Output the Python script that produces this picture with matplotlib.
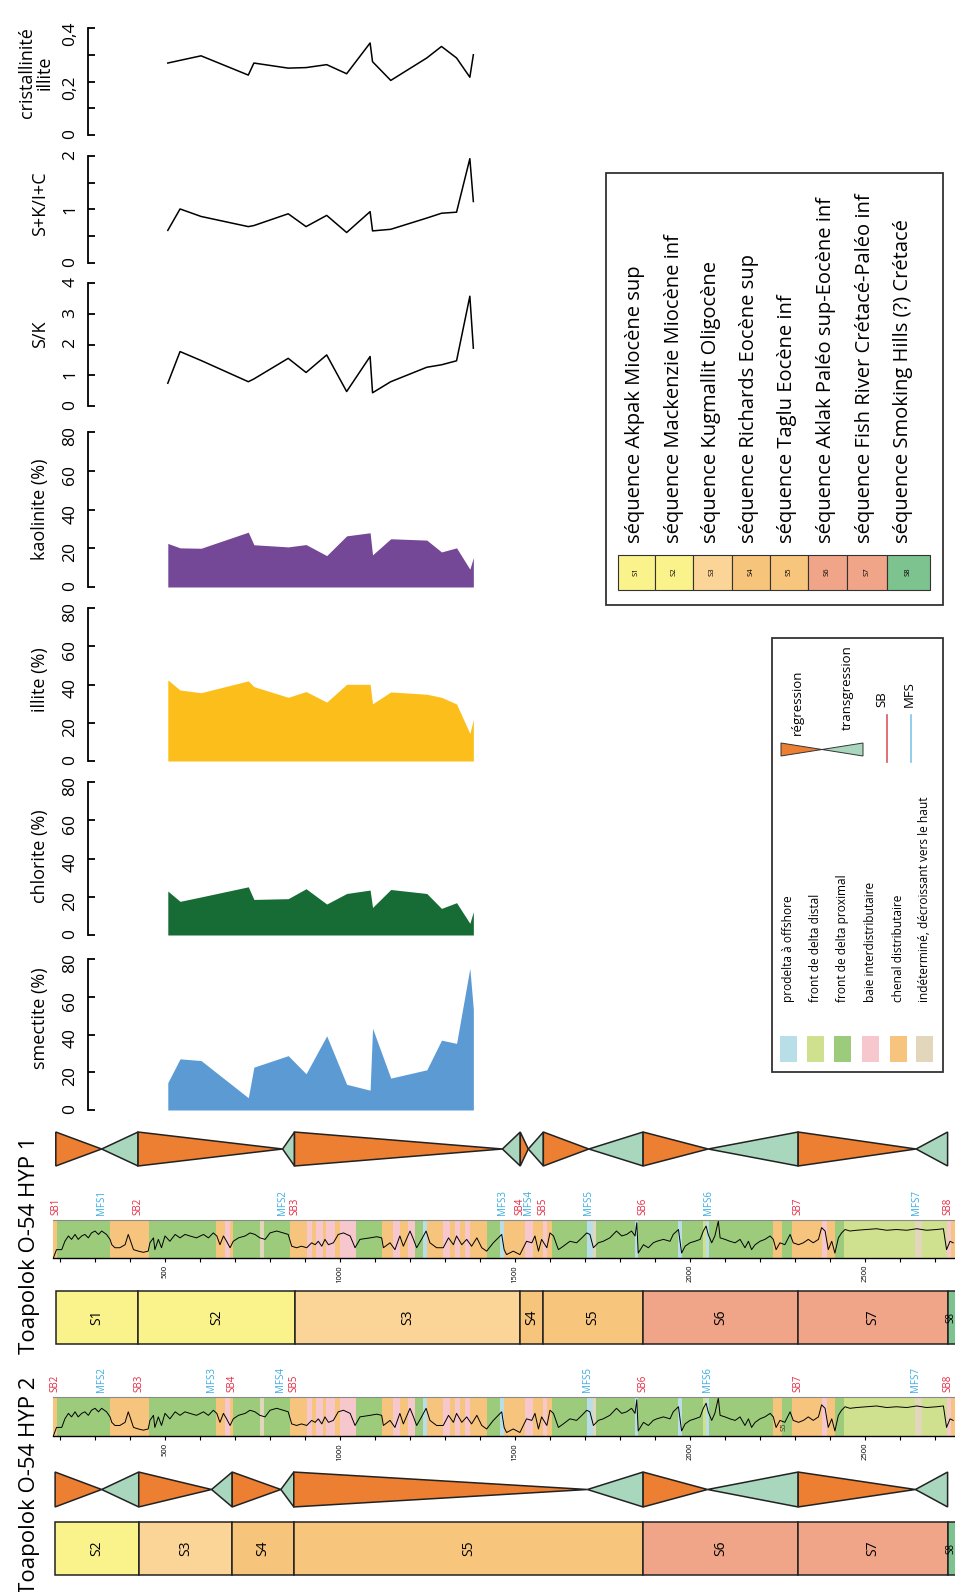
import numpy as np
import matplotlib
matplotlib.use("Agg")
import matplotlib.pyplot as plt
import matplotlib.transforms as mtransforms
from matplotlib.patches import Polygon, Rectangle

plt.rcParams['font.family'] = ['Open Sans', 'DejaVu Sans']

W, H = 955, 1592
# depth (m) seen at the left and right edges of the figure
D0, D1 = 10 / 0.35, (W + 10) / 0.35

# clay mineralogy, samples by depth (m)
sample_depth = [508, 543, 603, 738, 754, 852, 903, 962, 1019, 1086, 1093, 1145, 1248, 1290, 1333, 1371, 1381]
smectite = [14.5, 27.1, 26.2, 6.5, 22.7, 28.8, 19.2, 39.3, 13.6, 10.5, 43.3, 16.9, 21.3, 37.0, 35.3, 75.1, 53.3]
chlorite = [23.0, 17.6, 19.9, 25.2, 18.6, 19.0, 24.2, 16.2, 21.7, 23.5, 14.4, 23.8, 21.7, 13.9, 16.9, 6.1, 12.2]
illite = [42.4, 37.1, 35.7, 41.9, 38.9, 33.3, 36.3, 30.8, 40.1, 40.1, 29.9, 36.1, 34.9, 33.3, 29.8, 14.4, 21.7]
kaolinite = [22.5, 20.2, 20.0, 28.3, 21.8, 20.7, 21.9, 16.2, 26.4, 28.0, 16.6, 24.9, 24.2, 18.1, 20.2, 9.2, 15.2]
s_over_k = [0.74, 1.77, 1.48, 0.79, 0.88, 1.55, 1.09, 1.66, 0.47, 1.61, 0.43, 0.79, 1.26, 1.34, 1.47, 3.57, 1.88]
sk_over_ic = [0.61, 1.01, 0.87, 0.68, 0.70, 0.92, 0.68, 0.89, 0.57, 0.96, 0.60, 0.63, 0.84, 0.93, 0.95, 1.95, 1.15]
illite_cryst = [0.269, 0.279, 0.296, 0.224, 0.269, 0.250, 0.252, 0.263, 0.229, 0.344, 0.274, 0.204, 0.288, 0.331, 0.288, 0.216, 0.300]

# facies intervals along the well (m)
facies_from = [181, 191, 343, 454, 645, 671, 686, 693, 771, 783, 857, 905, 920, 930, 950, 960, 985, 1000,
               1046, 1121, 1152, 1171, 1195, 1214, 1238, 1249, 1295, 1314, 1329, 1343, 1357, 1371, 1419,
               1457, 1469, 1529, 1552, 1581, 1590, 1605, 1707, 1722, 1731, 1844, 1850, 1967, 1978, 2038,
               2046, 2055, 2238, 2264, 2291, 2376, 2391, 2414, 2440, 2643, 2662, 2733, 2745]
facies_to = [191, 343, 454, 645, 671, 686, 693, 771, 783, 857, 905, 920, 930, 950, 960, 985, 1000, 1046,
             1121, 1152, 1171, 1195, 1214, 1238, 1249, 1295, 1314, 1329, 1343, 1357, 1371, 1419, 1457,
             1469, 1529, 1552, 1581, 1590, 1605, 1707, 1722, 1731, 1844, 1850, 1967, 1978, 2038, 2046,
             2055, 2238, 2264, 2291, 2376, 2391, 2414, 2440, 2643, 2662, 2733, 2745, 2800]
facies_code = ['C', 'X', 'C', 'X', 'C', 'B', 'C', 'X', 'I', 'X', 'C', 'B', 'C', 'B', 'C', 'B', 'C', 'B',
               'X', 'C', 'B', 'C', 'B', 'X', 'P', 'C', 'B', 'C', 'B', 'C', 'B', 'C', 'X',
               'P', 'C', 'B', 'C', 'B', 'C', 'X', 'P', 'I', 'X', 'P', 'X', 'P', 'X', 'D',
               'P', 'X', 'C', 'X', 'C', 'B', 'C', 'X', 'D', 'I', 'D', 'B', 'C']

# gamma-ray style log curve (0 = bottom of track, 100 = top)
gr_depth = [181, 190, 205, 214, 224, 233, 243, 252, 262, 271, 281, 290, 300, 310, 319, 333, 343, 348, 357, 371,
            386, 395, 400, 410, 424, 438, 452, 457, 467, 471, 481, 490, 500, 514, 529, 543, 557, 571, 590, 610,
            624, 638, 648, 657, 667, 676, 686, 695, 710, 729, 743, 757, 771, 786, 800, 819, 838, 852, 862, 876,
            890, 905, 919, 929, 938, 948, 957, 967, 981, 995, 1010, 1029, 1043, 1057, 1086, 1105, 1119, 1124, 1143, 1157,
            1171, 1181, 1200, 1210, 1219, 1233, 1246, 1257, 1276, 1295, 1310, 1324, 1333, 1348, 1362, 1376, 1391, 1405, 1419, 1438,
            1452, 1462, 1469, 1476, 1495, 1514, 1533, 1548, 1557, 1567, 1576, 1591, 1600, 1610, 1624, 1638, 1657, 1676, 1691, 1705,
            1714, 1724, 1738, 1752, 1771, 1790, 1805, 1819, 1833, 1843, 1848, 1852, 1867, 1881, 1895, 1905, 1924, 1943, 1952, 1967,
            1976, 1986, 2000, 2014, 2029, 2038, 2046, 2052, 2062, 2071, 2081, 2086, 2100, 2114, 2129, 2143, 2157, 2167, 2176, 2186,
            2200, 2214, 2229, 2238, 2246, 2257, 2271, 2286, 2295, 2310, 2324, 2338, 2352, 2367, 2376, 2386, 2395, 2405, 2414, 2424,
            2433, 2443, 2457, 2476, 2505, 2533, 2562, 2590, 2619, 2648, 2676, 2705, 2724, 2733, 2743, 2752]
gr_value = [0, 22, 22, 44, 58, 49, 62, 49, 58, 62, 53, 66, 71, 62, 71, 62, 49, 35, 27, 27,
            35, 62, 49, 22, 18, 15, 18, 40, 53, 22, 49, 27, 58, 44, 62, 53, 62, 58, 53, 62,
            53, 66, 58, 35, 58, 44, 27, 44, 53, 58, 66, 62, 53, 49, 66, 71, 66, 62, 31, 27,
            31, 27, 40, 35, 44, 31, 49, 35, 40, 62, 66, 58, 27, 49, 53, 56, 53, 27, 40, 22,
            58, 31, 71, 49, 27, 49, 71, 40, 27, 27, 53, 35, 58, 35, 49, 31, 53, 27, 18, 40,
            53, 62, 22, 9, 18, 9, 44, 40, 58, 18, 49, 27, 66, 58, 22, 31, 44, 40, 53, 66,
            62, 27, 40, 44, 53, 71, 58, 62, 71, 58, 93, 13, 35, 27, 40, 44, 49, 44, 62, 75,
            13, 31, 40, 44, 49, 71, 84, 62, 40, 58, 97, 53, 49, 44, 40, 49, 27, 44, 22, 35,
            44, 49, 58, 49, 22, 40, 35, 62, 40, 35, 40, 49, 40, 49, 80, 71, 22, 44, 13, 53,
            66, 75, 71, 73, 75, 77, 73, 75, 73, 77, 73, 75, 77, 22, 44, 40]

# sequence stratigraphic surfaces, two hypotheses
hyp1_surfaces = ['SB1', 'MFS1', 'SB2', 'MFS2', 'SB3', 'MFS3', 'SB4', 'MFS4', 'SB5', 'MFS5', 'SB6', 'MFS6', 'SB7', 'MFS7', 'SB8']
hyp1_depths = [188, 319, 423, 836, 870, 1464, 1515, 1538, 1581, 1711, 1866, 2052, 2309, 2646, 2736]
hyp2_surfaces = ['SB2', 'MFS2', 'SB3', 'MFS3', 'SB4', 'MFS4', 'SB5', 'MFS5', 'SB6', 'MFS6', 'SB7', 'MFS7', 'SB8']
hyp2_depths = [186, 319, 425, 633, 692, 831, 868, 1707, 1866, 2050, 2309, 2644, 2736]

seq_names = ['S1', 'S2', 'S3', 'S4', 'S5', 'S6', 'S7', 'S8']
seq_labels = ['séquence Akpak Miocène sup', 'séquence Mackenzie Miocène inf', 'séquence Kugmallit Oligocène',
              'séquence Richards Eocène sup', 'séquence Taglu Eocène inf', 'séquence Aklak Paléo sup-Eocène inf',
              'séquence Fish River Crétacé-Paléo inf', 'séquence Smoking Hills (?) Crétacé']
facies_names = ['P', 'D', 'X', 'B', 'C', 'I']
facies_labels = ['prodelta à offshore', 'front de delta distal', 'front de delta proximal',
                 'baie interdistributaire', 'chenal distributaire', 'indéterminé, décroissant vers le haut']

seq_colors = {'S1': '#FAF28A', 'S2': '#FAF28A', 'S3': '#FAD597', 'S4': '#F6C47A', 'S5': '#F7C67C',
              'S6': '#F0A488', 'S7': '#F0A488', 'S8': '#7DC38F'}
facies_colors = {'P': '#B8DEE8', 'D': '#CFE08E', 'X': '#9CCB7B', 'B': '#F6C8CE', 'C': '#F7C47E', 'I': '#E2D7BA'}
ORANGE, GREEN = '#EC7F31', '#A9D7BD'
SB_RED, MFS_BLUE = '#E4263F', '#3AADE2'

fig = plt.figure(figsize=(W / 100, H / 100), dpi=100)


def band(y_top, y_bot):
    ax = fig.add_axes([0, 1 - y_bot / H, 1, (y_bot - y_top) / H])
    ax.set_xlim(D0, D1)
    ax.patch.set_alpha(0)
    return ax


# ---- mineralogy panels
pct_ticks = [0, 20, 40, 60, 80]
pct_labels = ['0', '20', '40', '60', '80']
panels = [
    (28, 135, 0.4, [0, .1, .2, .3, .4], ['0', '', '0,2', '', '0,4'], 'cristallinité\nillite', 73, 36, illite_cryst, None),
    (156, 263, 2, [0, .5, 1, 1.5, 2], ['0', '', '1', '', '2'], 'S+K/I+C', 204, 40, sk_over_ic, None),
    (283, 406, 4, [0, 1, 2, 3, 4], ['0', '1', '2', '3', '4'], 'S/K', 334, 40, s_over_k, None),
    (432, 587, 80, pct_ticks, pct_labels, 'kaolinite (%)', 509, 40, kaolinite, '#744896'),
    (608, 761, 80, pct_ticks, pct_labels, 'illite (%)', 680, 40, illite, '#FBBE1A'),
    (782, 935, 80, pct_ticks, pct_labels, 'chlorite (%)', 856, 40, chlorite, '#176B34'),
    (959, 1110, 80, pct_ticks, pct_labels, 'smectite (%)', 1018, 40, smectite, '#5C9AD4'),
]
for y_top, y_bot, top, ticks, labels, name, name_y, name_x, vals, color in panels:
    ax = band(y_top, y_bot)
    ax.set_ylim(0, top)
    for s in ['top', 'right', 'bottom']:
        ax.spines[s].set_visible(False)
    ax.spines['left'].set_position(('data', 280))
    ax.spines['left'].set_linewidth(1.3)
    ax.set_xticks([])
    ax.set_yticks(ticks)
    ax.set_yticklabels(labels)
    ax.tick_params(axis='y', direction='in', length=5, width=1.3, pad=7, labelsize=12.5, labelrotation=90)
    if color:
        ax.fill_between(sample_depth, 0, vals, color=color, lw=0)
    else:
        ax.plot(sample_depth, vals, color='black', lw=1.1)
    ax.text(name_x / W, (y_bot - name_y) / (y_bot - y_top), name, transform=ax.transAxes, rotation=90,
            ha='center', va='center', fontsize=13, linespacing=1.0, multialignment='center')


# ---- well tracks
def log_track(y_top, y_bot, names, depths, label_gap=5):
    ax = band(y_top, y_bot)
    ax.set_ylim(0, 100)
    ax.bar(facies_from, 100, width=np.subtract(facies_to, facies_from), align='edge',
           color=[facies_colors[c] for c in facies_code], lw=0)
    ax.plot(gr_depth, gr_value, color='black', lw=0.7)
    for s in ['left', 'right']:
        ax.spines[s].set_visible(False)
    ax.spines['top'].set_color('#8a8a8a')
    ax.spines['top'].set_bounds(181, D1)
    ax.spines['bottom'].set_bounds(181, D1)
    ax.spines['bottom'].set_linewidth(1.0)
    ticks = list(range(200, 2800, 100))
    ax.set_xticks(ticks)
    ax.set_xticklabels([str(t) if t % 500 == 0 else '' for t in ticks])
    ax.tick_params(axis='x', direction='out', length=3, width=0.8, labelsize=5.5, labelrotation=90, pad=2)
    ax.set_yticks([])
    trans = mtransforms.blended_transform_factory(ax.transData, ax.transAxes)
    for n, d in zip(names, depths):
        ax.text(d, 1 + label_gap / (y_bot - y_top), n, transform=trans, rotation=90, ha='center', va='bottom',
                fontsize=7, color=SB_RED if n.startswith('SB') else MFS_BLUE)
    return ax


def tri_track(y_top, y_bot, names, depths):
    ax = band(y_top, y_bot)
    ax.set_ylim(-1.06, 1.06)
    ax.axis('off')
    for i in range(len(depths) - 1):
        a, b = depths[i], depths[i + 1]
        if names[i].startswith('SB'):
            pts, col = [(a, -1), (a, 1), (b, 0)], ORANGE
        else:
            pts, col = [(a, 0), (b, 1), (b, -1)], GREEN
        ax.add_patch(Polygon(pts, closed=True, fc=col, ec='#222222', lw=1.1))


def seq_track(y_top, y_bot, names, tops):
    ax = band(y_top, y_bot)
    ax.set_ylim(-0.02, 1.02)
    ax.axis('off')
    ends = tops[1:] + [D1 + 60]
    ax.bar(tops, 1, width=np.subtract(ends, tops), align='edge',
           color=[seq_colors[n] for n in names], edgecolor='#222222', lw=1.1)
    for n, a, b in zip(names, tops, ends):
        # the last box runs off the figure edge; keep its label on the visible part
        xc = (a + b) / 2 if b < D1 else (a + D1) / 2 - 2
        ax.text(xc, 0.5, n, rotation=90, ha='center', va='center',
                fontsize=10 if b < D1 else 7)


# HYP 1
tri_track(1131, 1167, hyp1_surfaces, hyp1_depths)
log_track(1220, 1258, hyp1_surfaces, hyp1_depths)
hyp1_seq_tops = [d for n, d in zip(hyp1_surfaces, hyp1_depths) if n.startswith('SB')]
seq_track(1290, 1345, seq_names, hyp1_seq_tops)

# HYP 2
ax2 = log_track(1397, 1436, hyp2_surfaces, hyp2_depths)
ax2.text(2269, 25, 'S5', rotation=90, ha='center', va='center', fontsize=5.5, color='#333333')
tri_track(1471, 1508, hyp2_surfaces, hyp2_depths)
hyp2_seq_tops = [d for n, d in zip(hyp2_surfaces, hyp2_depths) if n.startswith('SB')]
seq_track(1521, 1576, seq_names[1:], hyp2_seq_tops)

fig.text(30 / W, 1 - 1245 / H, 'Toapolok O-54 HYP 1', rotation=90, ha='center', va='center', fontsize=16)
fig.text(30 / W, 1 - 1485 / H, 'Toapolok O-54 HYP 2', rotation=90, ha='center', va='center', fontsize=16)

# ---- legends (pixel coordinates)
lg = fig.add_axes([0, 0, 1, 1])
lg.set_xlim(0, W)
lg.set_ylim(H, 0)
lg.axis('off')

lg.add_patch(Rectangle((606, 173), 337, 432, fill=False, ec='#333333', lw=1.3))
sw_edges = [618, 655, 693, 732, 770, 808, 847, 887, 930]
text_x = [635, 674, 711, 749, 787, 826, 865, 903]
for i, (n, lab) in enumerate(zip(seq_names, seq_labels)):
    lg.add_patch(Rectangle((sw_edges[i], 555), sw_edges[i + 1] - sw_edges[i], 35,
                           fc=seq_colors[n], ec='#333333', lw=0.8))
    lg.text((sw_edges[i] + sw_edges[i + 1]) / 2, 572, n, rotation=90, ha='center', va='center', fontsize=5.5)
    lg.text(text_x[i], 543, lab, rotation=90, ha='center', va='bottom', fontsize=14.5)

lg.add_patch(Rectangle((772, 638), 171, 434, fill=False, ec='#333333', lw=1.3))
fx = [788, 815, 842, 870, 898, 924]
for i, (c, lab) in enumerate(zip(facies_names, facies_labels)):
    lg.add_patch(Rectangle((fx[i] - 8.5, 1036), 17, 26, fc=facies_colors[c], lw=0))
    lg.text(fx[i], 1002, lab, rotation=90, ha='center', va='bottom', fontsize=8.6)

lg.add_patch(Polygon([(781, 743), (781, 756), (822, 749.5)], closed=True, fc=ORANGE, ec='#333333', lw=0.7))
lg.add_patch(Polygon([(822, 749.5), (863, 743), (863, 756)], closed=True, fc=GREEN, ec='#333333', lw=0.7))
lg.text(797, 735, 'régression', rotation=90, ha='center', va='bottom', fontsize=9.5)
lg.text(847, 730, 'transgression', rotation=90, ha='center', va='bottom', fontsize=9.5)
lg.plot([887, 887], [715, 762], color='#D9575E', lw=1.2)
lg.plot([911, 911], [715, 762], color='#7EC6E6', lw=1.2)
lg.text(882, 707, 'SB', rotation=90, ha='center', va='bottom', fontsize=9.5)
lg.text(909, 707, 'MFS', rotation=90, ha='center', va='bottom', fontsize=9.5)

fig.savefig('out.png', dpi=100)
